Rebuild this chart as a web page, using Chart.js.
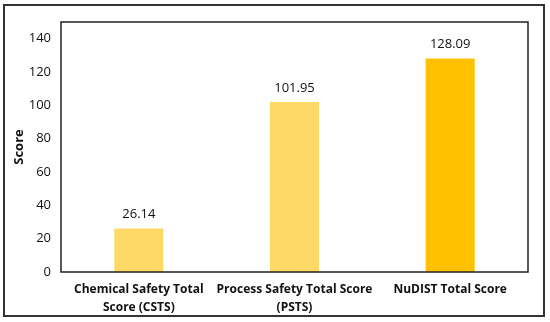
<!DOCTYPE html>
<html><head><meta charset="utf-8">
<script src="https://cdn.jsdelivr.net/npm/chart.js@4"></script>
<style>html,body{margin:0;padding:0;background:#fff}#wrap{width:550px;height:322px;position:relative}</style>
</head><body><div id="wrap"><canvas id="c" width="550" height="322"></canvas></div>
<script>
const categories = [["Chemical Safety Total","Score (CSTS)"],["Process Safety Total Score","(PSTS)"],["NuDIST Total Score"]];
const scores = [26.14, 101.95, 128.09];
const valueLabels = ["26.14","101.95","128.09"];
const barColors = ["#FFD966","#FFD966","#FFC000"];
const yTicks = [0,20,40,60,80,100,120,140];
const yMax = 150;
const FONT = "'Open Sans', sans-serif";

const frames = {
  id:'frames',
  afterDraw(chart){
    const ctx=chart.ctx, a=chart.chartArea;
    ctx.save();
    ctx.strokeStyle='#222'; ctx.lineWidth=1.5;
    ctx.strokeRect(a.left,a.top,a.right-a.left,a.bottom-a.top);
    ctx.strokeStyle='#333'; ctx.lineWidth=2;
    ctx.strokeRect(4,5,540,311);
    ctx.restore();
  }
};
const valLabels = {
  id:'valLabels',
  afterDatasetsDraw(chart){
    const ctx=chart.ctx; const meta=chart.getDatasetMeta(0);
    ctx.save(); ctx.font="13px "+FONT; ctx.fillStyle='#111'; ctx.textAlign='center'; ctx.textBaseline='middle';
    meta.data.forEach((bar,i)=>{ ctx.fillText(valueLabels[i], bar.x, bar.y-14); });
    ctx.restore();
  }
};

new Chart(document.getElementById('c'),{
  type:'bar',
  data:{labels:categories,datasets:[{data:scores,backgroundColor:barColors,categoryPercentage:1,barPercentage:0.315}]},
  options:{
    responsive:false,animation:false,
    layout:{padding:{top:22,right:22,left:0,bottom:0}},
    plugins:{legend:{display:false},tooltip:{enabled:false}},
    scales:{
      x:{grid:{display:false,drawTicks:false},border:{display:false},
        ticks:{color:'#111',font:{family:FONT,size:12,weight:'bold',lineHeight:1.5},padding:9,maxRotation:0,autoSkip:false},
        afterFit(s){s.height=50;}},
      y:{min:0,max:yMax,grid:{display:false,drawTicks:false},border:{display:false},
        afterBuildTicks(s){s.ticks=yTicks.map(v=>({value:v}));},
        ticks:{color:'#111',font:{family:FONT,size:13},padding:10},
        title:{display:true,text:'Score',color:'#111',font:{family:FONT,size:13,weight:'bold'},padding:{top:11,bottom:0}},
        afterFit(s){s.width=61;}}
    }
  },
  plugins:[valLabels,frames]
});
</script></body></html>
